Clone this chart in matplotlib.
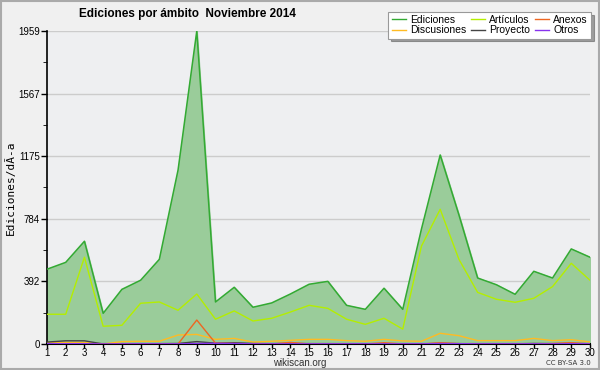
import matplotlib.pyplot as plt
from matplotlib.ticker import MultipleLocator

# daily edits by namespace, November 2014
days = list(range(1, 31))
ediciones = [468, 511, 643, 192, 342, 399, 530, 1089, 1959, 263,
             355, 230, 257, 313, 374, 392, 242, 217, 349, 217,
             720, 1183, 808, 413, 371, 311, 455, 413, 595, 543]
articulos = [186, 186, 543, 111, 117, 255, 263, 211, 313, 155,
             207, 144, 161, 200, 242, 223, 155, 123, 161, 93,
             613, 843, 530, 323, 280, 261, 286, 359, 505, 399]
discusiones = [8, 10, 10, 0, 15, 17, 17, 56, 60, 29,
               35, 12, 17, 23, 29, 29, 21, 17, 29, 19,
               17, 67, 52, 21, 21, 21, 35, 21, 27, 13]
anexos = [0, 0, 0, 0, 0, 0, 0, 0, 150, 5,
          3, 0, 0, 10, 0, 0, 0, 0, 8, 0,
          0, 8, 2, 0, 0, 0, 0, 3, 8, 0]
proyecto = [12, 20, 20, 0, 2, 2, 2, 3, 15, 5,
            8, 3, 2, 3, 2, 2, 1, 1, 2, 1,
            1, 3, 2, 1, 1, 1, 3, 2, 3, 2]
otros = [2, 2, 2, 0, 1, 1, 1, 1, 3, 4,
         3, 1, 1, 1, 1, 1, 1, 1, 1, 1,
         1, 3, 2, 1, 1, 1, 1, 1, 2, 1]

yticks = [0, 392, 784, 1175, 1567, 1959]

narrow = ['Liberation Sans', 'DejaVu Sans']

fig = plt.figure(figsize=(6, 3.7), dpi=100, facecolor='#f0f0f0')
ax = fig.add_axes([0.0783, 0.0703, 0.905, 0.846], facecolor='#eeeff1')

ax.fill_between(days, ediciones, color='#9acc9a', zorder=2)
ax.plot(days, ediciones, color='#33aa33', lw=1.1, zorder=3, label='Ediciones')
ax.plot(days, discusiones, color='#ffbb22', lw=1, zorder=4, label='Discusiones')
ax.plot(days, articulos, color='#b4ee00', lw=1, zorder=4, label='Artículos')
ax.plot(days, proyecto, color='#444444', lw=1, zorder=4, label='Proyecto')
ax.plot(days, anexos, color='#ee6622', lw=1, zorder=5, label='Anexos')
ax.plot(days, otros, color='#8833ee', lw=1, zorder=5, label='Otros')

ax.set_xlim(1, 30)
ax.set_ylim(0, 1959)
ax.set_xticks(days)
ax.set_yticks(yticks)
ax.yaxis.set_minor_locator(MultipleLocator(1959 / 10))
ax.tick_params(axis='both', labelsize=7, length=4, width=1, pad=1)
ax.tick_params(axis='y', which='minor', length=3)
ax.tick_params(axis='x', length=3, pad=0)
for lbl in ax.get_xticklabels() + ax.get_yticklabels():
    lbl.set_family(narrow)
ax.grid(axis='y', color='#cccccc', lw=1, zorder=1)
for s in ['top', 'right']:
    ax.spines[s].set_visible(False)
ax.spines['left'].set_linewidth(1.2)
ax.spines['bottom'].set_linewidth(1.5)

ax.set_ylabel('Ediciones/dÃ-a', family='DejaVu Sans Mono', fontsize=8, labelpad=2)
fig.text(0.313, 0.963, 'Ediciones por ámbito  Noviembre 2014', ha='center', va='center',
         fontsize=8.5, fontweight='bold', family=narrow)
fig.text(0.5, 0.02, 'wikiscan.org', ha='center', va='center', fontsize=7,
         color='#333333', family=narrow)
fig.text(0.985, 0.02, 'CC BY-SA 3.0', ha='right', va='center', fontsize=5, color='#333333')

leg = fig.legend(loc='upper right', bbox_to_anchor=(0.985, 0.968), ncol=3,
                 prop={'family': narrow, 'size': 7.5},
                 frameon=True, fancybox=False, shadow=True, handlelength=1.4,
                 handletextpad=0.4, columnspacing=0.4, labelspacing=0.05,
                 borderpad=0.3, borderaxespad=0)
leg.get_frame().set_edgecolor('#999999')
leg.get_frame().set_linewidth(0.8)
for line in leg.get_lines():
    line.set_linewidth(1)

fig.patches.append(plt.Rectangle((0.001, 0.002), 0.997, 0.995, transform=fig.transFigure,
                                 fill=False, edgecolor='#aaaaaa', lw=1.5))
fig.savefig('out.png', dpi=100, facecolor=fig.get_facecolor())
